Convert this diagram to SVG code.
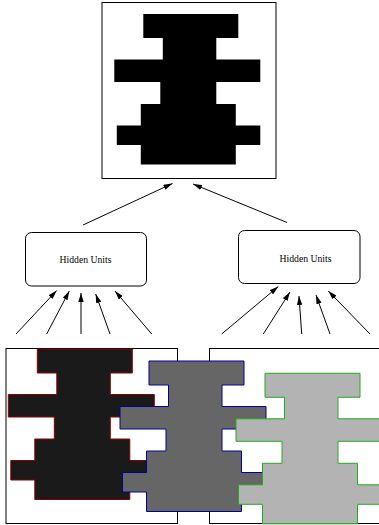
<svg xmlns="http://www.w3.org/2000/svg" xmlns:xlink="http://www.w3.org/1999/xlink" width="379" height="525" viewBox="0 0 379 525">
<style>
.frame{fill:#fff;stroke:#000;stroke-width:1}
.hid{fill:#fff;stroke:#000;stroke-width:1}
.lbl{font-family:"Liberation Serif","Times New Roman",serif;font-size:9.7px;fill:#000;text-anchor:middle}
.conn line{stroke:#000;stroke-width:1;marker-end:url(#ah)}
</style>
<defs>
<marker id="ah" viewBox="0 0 10 6" refX="10" refY="3" markerWidth="9" markerHeight="5.4" markerUnits="userSpaceOnUse" orient="auto">
<path d="M0,0 L10,3 L0,6 Z" fill="#000"/>
</marker>
<path id="shape" d="M0,0 H95 V24 H73 V45.5 H117 V68 H73 V90 H92.5 V111.5 H117 V131 H92.5 V150.5 H-2.5 V131 H-26.5 V111.5 H-2.5 V90 H17 V68 H-29 V45.5 H19.5 V24 H0 Z"/>
</defs>
<g id="output">
<rect class="frame" x="102" y="2.5" width="174" height="176"/>
<use xlink:href="#shape" href="#shape" transform="translate(143.3,14)" fill="#000" stroke="none"/>
</g>
<g id="hidden-left">
<rect class="hid" x="25.5" y="232.5" width="121" height="53.5" rx="6" ry="6"/>
<text class="lbl" x="85.5" y="262.5">Hidden Units</text>
</g>
<g id="hidden-right">
<rect class="hid" x="238.5" y="230.5" width="121.5" height="53" rx="6" ry="6"/>
<text class="lbl" x="305.5" y="261.5">Hidden Units</text>
</g>
<g id="input-left">
<rect class="frame" x="6" y="348.5" width="171.5" height="175"/>
</g>
<g id="input-right">
<rect class="frame" x="209.5" y="348.5" width="175" height="175"/>
</g>
<g id="input-shapes">
<use xlink:href="#shape" href="#shape" transform="translate(37.3,349)" fill="#1a1a1a" stroke="#8b0000" stroke-width="1"/>
<use xlink:href="#shape" href="#shape" transform="translate(149,361)" fill="#666666" stroke="#000099" stroke-width="1"/>
<use xlink:href="#shape" href="#shape" transform="translate(265,373.3)" fill="#b3b3b3" stroke="#22aa22" stroke-width="1"/>
</g>
<g id="connectors" class="conn">
<line x1="83" y1="225" x2="172.5" y2="183.5"/>
<line x1="287" y1="222.5" x2="193" y2="184"/>
<line x1="16" y1="334" x2="56.7" y2="290.5"/>
<line x1="46.7" y1="334" x2="69.3" y2="291"/>
<line x1="81" y1="334" x2="81" y2="293"/>
<line x1="110" y1="334" x2="95.7" y2="294"/>
<line x1="151.7" y1="334" x2="115" y2="291"/>
<line x1="221.7" y1="334" x2="278.3" y2="286.5"/>
<line x1="263.3" y1="334" x2="290" y2="292"/>
<line x1="301.7" y1="334" x2="299" y2="296"/>
<line x1="330" y1="334" x2="316" y2="295"/>
<line x1="370" y1="334" x2="328.3" y2="291"/>
</g>
</svg>
